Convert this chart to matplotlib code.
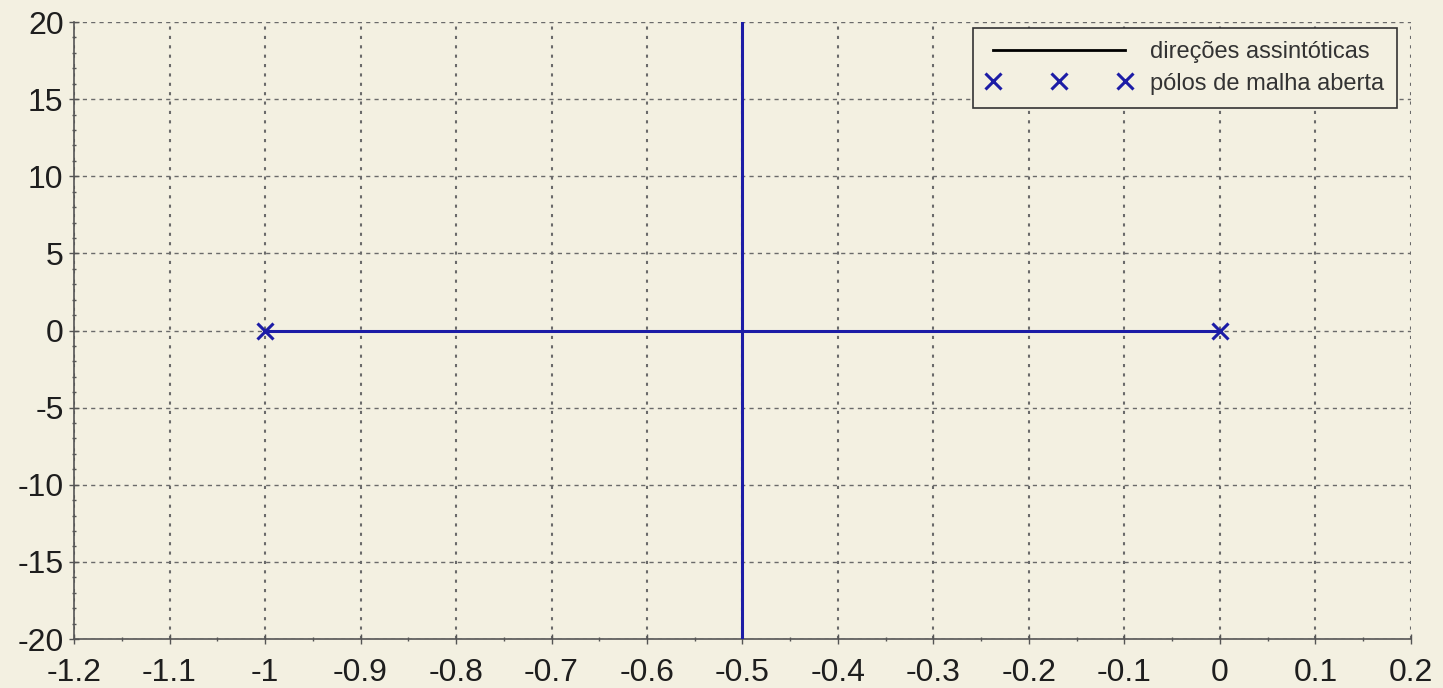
import matplotlib
matplotlib.use("Agg")
import matplotlib.pyplot as plt
from matplotlib.ticker import MultipleLocator, FuncFormatter

plt.rcParams["font.family"] = ["Liberation Sans", "DejaVu Sans"]

# Open-loop poles and root-locus branches
poles_re = [-1.0, 0.0]
poles_im = [0.0, 0.0]
real_branch_x = [-1.0, 0.0]
real_branch_y = [0.0, 0.0]
centroid = -0.5
imag_limits = [-20.0, 20.0]

xticks = [-1.2, -1.1, -1.0, -0.9, -0.8, -0.7, -0.6, -0.5, -0.4, -0.3, -0.2, -0.1, 0.0, 0.1, 0.2]
yticks = [-20, -15, -10, -5, 0, 5, 10, 15, 20]

bg = "#f3f0e1"
blue = "#1c1ca6"
gridc = "#6a6a6a"

fig = plt.figure(figsize=(14.43, 6.88), dpi=100, facecolor=bg)
ax = fig.add_axes([0.0513, 0.0712, 0.9265, 0.8968], facecolor=bg)

# asymptote direction (vertical through centroid)
ax.plot([centroid, centroid], imag_limits, color="black", lw=2, label="direções assintóticas", zorder=3)
# root locus branches
ax.plot(real_branch_x, real_branch_y, color=blue, lw=2.2, zorder=4)
ax.plot([centroid, centroid], imag_limits, color=blue, lw=2.2, zorder=4)
# open-loop poles
ax.plot(poles_re, poles_im, linestyle="none", marker="x", ms=11, mew=2.2,
        color=blue, label="pólos de malha aberta", zorder=5)

ax.set_xlim(-1.2, 0.2)
ax.set_ylim(-20, 20)
ax.set_xticks(xticks)
ax.set_yticks(yticks)
ax.xaxis.set_minor_locator(MultipleLocator(0.05))
ax.yaxis.set_minor_locator(MultipleLocator(1))

def fmt(v, pos):
    s = f"{v:.1f}".rstrip("0").rstrip(".")
    if s == "-0":
        s = "0"
    return s

ax.xaxis.set_major_formatter(FuncFormatter(fmt))
ax.yaxis.set_major_formatter(FuncFormatter(lambda v, p: f"{int(round(v))}"))

for sp in ["top", "right"]:
    ax.spines[sp].set_visible(False)
for sp in ["left", "bottom"]:
    ax.spines[sp].set_color("#555555")
    ax.spines[sp].set_linewidth(1.2)

ax.tick_params(axis="both", which="major", labelsize=23, colors="#555555",
               labelcolor="#1e1e1e", direction="inout", length=7, width=1)
ax.tick_params(axis="x", which="major", pad=10)
ax.tick_params(axis="y", which="major", pad=4)
ax.tick_params(axis="both", which="minor", colors="#555555", direction="inout", length=3, width=1)

# grid: dashed horizontal, dotted vertical
ax.yaxis.grid(True, which="major", linestyle=(0, (3, 3)), color=gridc, lw=1)
ax.xaxis.grid(True, which="major", linestyle=(0, (1.5, 3)), color=gridc, lw=1.5)
ax.set_axisbelow(True)

leg = ax.legend(loc="upper right", bbox_to_anchor=(0.9895, 0.99), fontsize=17,
                numpoints=3, handlelength=6.2, handletextpad=0.75, borderpad=0.55,
                borderaxespad=0, labelspacing=0.4, fancybox=False, framealpha=1,
                facecolor=bg, edgecolor="#333333")
leg.get_frame().set_linewidth(1.2)
for t in leg.get_texts():
    t.set_color("#333333")

fig.savefig("out.png", dpi=100, facecolor=bg)
